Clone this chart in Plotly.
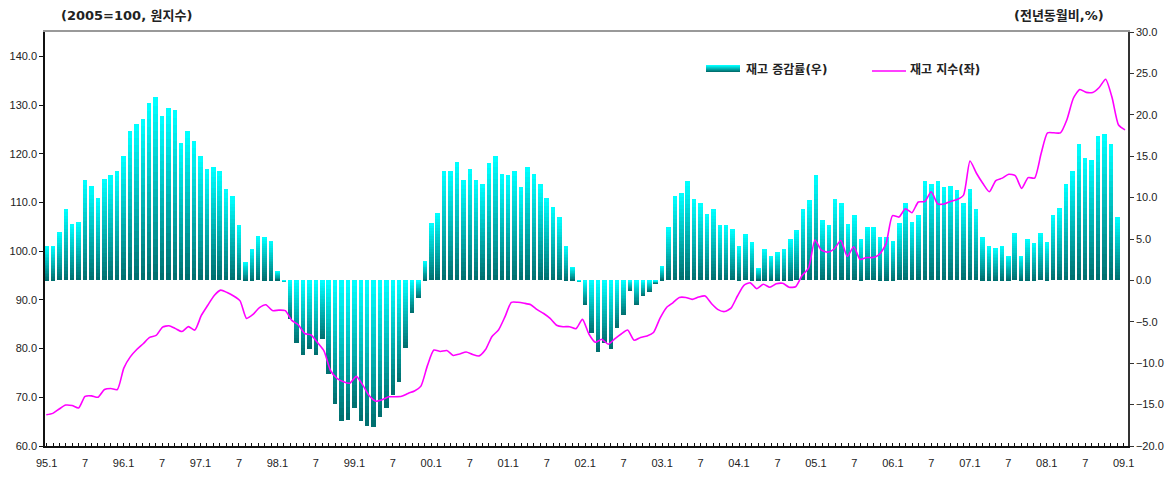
import plotly.graph_objects as go

# ---------------- data ----------------
months = [f"{y}.{m}" for y in range(1995, 2009) for m in range(1, 13)]

# 재고 증감률 (전년동월비, %), right axis
growth_rate = [
    4.2, 4.2, 5.9, 8.6, 6.8, 7.1, 12.1, 11.4, 9.9, 12.3, 12.7, 13.2,          # 1995
    15.0, 18.0, 18.9, 19.5, 21.4, 22.1, 19.8, 20.8, 20.6, 16.6, 18.0, 16.8,   # 1996
    15.0, 13.5, 13.7, 13.2, 11.0, 10.2, 6.7, 2.2, 3.8, 5.4, 5.3, 4.8,         # 1997
    1.1, -0.2, -4.7, -7.6, -9.0, -8.3, -9.0, -7.1, -11.3, -14.9, -17.0, -16.8,  # 1998
    -15.4, -17.0, -17.6, -17.7, -16.5, -15.4, -13.9, -12.3, -8.2, -3.9, -2.1, 2.3,  # 1999
    6.9, 8.2, 13.2, 13.2, 14.3, 12.1, 13.4, 12.1, 11.7, 14.2, 15.0, 12.8,     # 2000
    12.7, 13.2, 11.3, 13.7, 12.8, 11.6, 9.9, 8.9, 7.6, 4.2, 1.6, -0.2,        # 2001
    -3.0, -6.3, -8.6, -7.5, -8.3, -5.7, -4.2, -1.3, -3.0, -1.9, -1.4, -0.4,   # 2002
    1.7, 6.4, 10.2, 10.6, 12.0, 9.8, 9.3, 8.0, 8.6, 6.7, 6.7, 6.2,            # 2003
    4.1, 5.6, 4.6, 1.5, 3.8, 3.0, 3.4, 3.8, 5.0, 6.1, 8.6, 9.7,               # 2004
    12.7, 7.3, 6.7, 9.8, 9.4, 6.8, 7.9, 5.0, 6.5, 6.4, 5.2, 5.3,              # 2005
    4.8, 6.9, 9.4, 7.1, 7.9, 12.0, 11.7, 12.0, 11.3, 11.4, 10.9, 9.4,         # 2006
    11.0, 8.6, 5.2, 4.1, 3.9, 4.2, 3.0, 5.7, 3.0, 5.0, 4.5, 5.7,              # 2007
    4.6, 7.9, 8.7, 11.7, 13.2, 16.5, 14.8, 14.6, 17.5, 17.7, 16.5, 7.6,       # 2008
]

# 재고 지수 (2005=100, 원지수), left axis
index_level = [
    66.4, 66.7, 67.6, 68.4, 68.3, 67.8, 70.2, 70.3, 70.0, 71.6, 71.8, 71.6,
    76.0, 78.3, 79.8, 81.0, 82.3, 82.7, 84.4, 84.7, 84.1, 83.5, 84.5, 83.8,
    86.8, 88.9, 90.9, 92.0, 91.5, 90.8, 89.8, 86.2, 87.0, 88.4, 89.0, 87.8,
    87.9, 87.8, 85.8, 84.9, 83.1, 82.8, 81.2, 79.5, 75.5, 73.9, 73.2, 72.9,
    74.3, 72.5, 70.3, 69.2, 69.5, 70.1, 70.1, 70.2, 70.8, 71.3, 72.3, 76.5,
    79.7, 79.4, 79.6, 78.6, 78.9, 79.3, 78.8, 78.5, 79.8, 82.5, 83.8, 86.5,
    89.5, 89.5, 89.3, 89.0, 88.0, 87.2, 86.2, 84.8, 84.5, 84.5, 84.1, 86.0,
    83.0, 81.3, 81.9, 80.9, 82.0, 83.0, 83.8, 81.7, 82.3, 82.6, 83.3, 86.2,
    88.4, 89.4, 90.5, 90.5, 90.1, 90.6, 90.8, 89.2, 88.0, 87.6, 88.3, 90.8,
    93.0, 93.5, 92.3, 93.2, 92.6, 93.3, 93.4, 92.6, 92.7, 95.0, 96.5, 102.3,
    100.2, 99.8, 100.5, 102.2, 98.9, 100.9, 98.3, 98.7, 98.7, 99.4, 101.5, 107.3,
    107.0, 108.7, 107.9, 110.1, 110.2, 112.2, 109.7, 109.7, 110.2, 110.6, 111.5, 118.5,
    116.0, 113.9, 112.2, 114.5, 115.0, 115.8, 115.5, 112.9, 115.1, 115.0, 120.0, 124.3,
    124.3, 124.3, 127.0, 131.4, 133.2, 132.6, 132.6, 133.6, 135.3, 131.5, 125.9, 124.9,
]

tick_labels = ["95.1", "7", "96.1", "7", "97.1", "7", "98.1", "7", "99.1", "7",
               "00.1", "7", "01.1", "7", "02.1", "7", "03.1", "7", "04.1", "7",
               "05.1", "7", "06.1", "7", "07.1", "7", "08.1", "7", "09.1"]

left_ticks = [60, 70, 80, 90, 100, 110, 120, 130, 140]

bar_name = "재고 증감률(우)"
line_name = "재고 지수(좌)"

# ---------------- figure ----------------
# the page body adds an 8px margin, so the figure is laid out 8px smaller
BODY = 8
W, H = 1175 - BODY, 477 - BODY
ML, MT = 45 - BODY, 32 - BODY
PW, PH = 1083, 414
MR, MB = W - ML - PW, H - MT - PH

x = list(range(len(months)))
tick_pos = [6 * i for i in range(len(tick_labels))]

TOP = (0, 255, 255)
BOTTOM = (0, 112, 112)


def mix(t):
    r = round(TOP[0] + (BOTTOM[0] - TOP[0]) * t)
    g = round(TOP[1] + (BOTTOM[1] - TOP[1]) * t)
    b = round(TOP[2] + (BOTTOM[2] - TOP[2]) * t)
    return f"rgb({r},{g},{b})"


def px(xs):
    """screen x (as in the original picture) -> paper fraction"""
    return (xs - BODY - ML) / PW


def py(ys):
    return 1 - (ys - BODY - MT) / PH


fig = go.Figure()

N = 22
for k in range(N):
    frac = (N - k) / N
    t = k / (N - 1)
    colors = [mix(t) if v >= 0 else mix(1 - t) for v in growth_rate]
    fig.add_trace(go.Bar(
        x=x, y=[v * frac for v in growth_rate],
        marker=dict(color=colors, line=dict(width=0)),
        width=0.7, name=bar_name, showlegend=False, hoverinfo="skip",
        xaxis="x", yaxis="y",
    ))

fig.add_trace(go.Scatter(
    x=x, y=index_level, mode="lines", name=line_name, showlegend=False,
    line=dict(color="#FF00FF", width=1.6, shape="spline", smoothing=0.6),
    xaxis="x2", yaxis="y2",
))

tickfont = dict(family="Liberation Sans, Arial, sans-serif", size=11, color="#222")
krfont = dict(family="DejaVu Sans, Noto Sans CJK KR", size=12, color="#222", weight="bold")
titlefont = dict(family="DejaVu Sans, Noto Sans CJK KR", size=13, color="#222", weight="bold")

# legend (drawn manually to get the wide gradient swatch of the original)
shapes = []
SW_X0, SW_X1, SW_Y0, SW_Y1 = 706, 740, 65, 72
steps = 7
for s in range(steps):
    y0 = SW_Y0 + (SW_Y1 - SW_Y0) * s / steps
    y1 = SW_Y0 + (SW_Y1 - SW_Y0) * (s + 1) / steps
    shapes.append(dict(type="rect", xref="paper", yref="paper",
                       x0=px(SW_X0), x1=px(SW_X1), y0=py(y1), y1=py(y0),
                       fillcolor=mix(s / (steps - 1)), line=dict(width=0), layer="above"))
shapes.append(dict(type="line", xref="paper", yref="paper",
                   x0=px(872), x1=px(906), y0=py(71), y1=py(71),
                   line=dict(color="#FF00FF", width=1.6), layer="above"))

annotations = [
    dict(text="(2005=100, 원지수)", xref="paper", yref="paper", x=px(59), y=py(15),
         xanchor="left", yanchor="middle", showarrow=False, font=titlefont),
    dict(text="(전년동월비,%)", xref="paper", yref="paper", x=px(1106), y=py(15),
         xanchor="right", yanchor="middle", showarrow=False, font=titlefont),
    dict(text=bar_name, xref="paper", yref="paper", x=px(744), y=py(70),
         xanchor="left", yanchor="middle", showarrow=False, font=krfont),
    dict(text=line_name, xref="paper", yref="paper", x=px(908), y=py(70),
         xanchor="left", yanchor="middle", showarrow=False, font=krfont),
]

fig.update_layout(
    width=W, height=H,
    margin=dict(l=ML, r=MR, t=MT, b=MB, autoexpand=False),
    plot_bgcolor="white", paper_bgcolor="white",
    barmode="overlay", bargap=0,
    showlegend=False,
    xaxis=dict(range=[-0.25, 168.67], tickmode="array", tickvals=tick_pos, ticktext=tick_labels,
               ticks="inside", ticklen=3, tickcolor="#111", showline=True, linecolor="#111",
               linewidth=1.5, showgrid=False, zeroline=False, tickfont=tickfont,
               ticklabelstandoff=6, automargin=False,
               minor=dict(tickmode="linear", tick0=0, dtick=1, ticks="inside", ticklen=3,
                          tickcolor="#111", showgrid=False)),
    xaxis2=dict(overlaying="x", side="top", range=[-0.2, 167.46], showline=True,
                linecolor="#999", linewidth=1.5, showticklabels=False, ticks="",
                showgrid=False, zeroline=False, automargin=False),
    yaxis=dict(side="right", range=[-20, 30], dtick=5, tick0=0, tickformat=".1f",
               ticks="outside", ticklen=4, tickcolor="#333", showline=True, linecolor="#333",
               linewidth=1.5, showgrid=False, zeroline=False, tickfont=tickfont,
               automargin=False),
    yaxis2=dict(side="left", overlaying="y", range=[60, 145], tickmode="array",
                tickvals=left_ticks, tickformat=".1f", ticks="outside", ticklen=4,
                tickcolor="#111", showline=True, linecolor="#111", linewidth=1.5,
                showgrid=False, zeroline=False, tickfont=tickfont, automargin=False),
    shapes=shapes,
    annotations=annotations,
)

fig.write_html("out.html")
